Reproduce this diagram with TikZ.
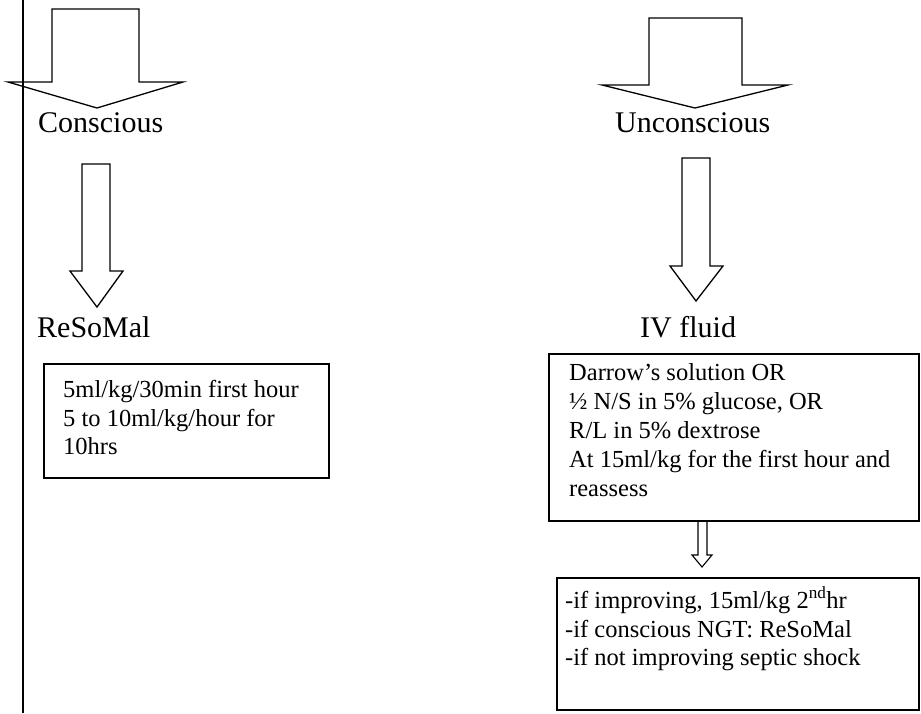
\documentclass[tikz,border=0pt]{standalone}
\usepackage{fontspec}
\setmainfont{Liberation Serif}
\begin{document}
\begin{tikzpicture}[x=1pt,y=-1pt,
  blockarrow/.style={draw=black, line width=1.3pt, line join=miter},
  frame/.style={draw=black, line width=1.8pt, inner sep=0pt, anchor=north west},
  head/.style={font=\fontsize{30}{36}\selectfont, anchor=base west, inner sep=0pt},
  body/.style={font=\fontsize{24.5}{29}\selectfont, anchor=base west, inner sep=0pt},
]
\useasboundingbox (0,0) rectangle (921,713);

% ---------- left column ----------
\node[head] (conscious) at (38,132) {Conscious};
\node[head] (resomal) at (37,337) {ReSoMal};

\node[frame, minimum width=285pt, minimum height=114pt] (leftbox) at (43,363) {};
\node[body] (l1) at (63,397) {5ml/kg/30min first hour};
\node[body] (l2) at (63,426) {5 to 10ml/kg/hour for};
\node[body] (l3) at (63,454) {10hrs};

% block arrow into "Conscious"
\draw[blockarrow] (52,9) -- (139,9) -- (139,82) -- (183,82) -- (97,108)
  -- (8,82) -- (52,82) -- cycle;
% block arrow from "Conscious" to "ReSoMal"
\draw[blockarrow] (82,164) -- (110,164) -- (110,271) -- (123,271) -- (97,307)
  -- (70,271) -- (82,271) -- cycle;

% ---------- right column ----------
\node[head] (unconscious) at (615,132) {Unconscious};
\node[head] (ivfluid) at (640,337) {IV fluid};

\node[frame, minimum width=370pt, minimum height=167pt] (ivbox) at (548,353) {};
\node[body] (r1) at (569,380) {Darrow’s solution OR};
\node[body] (r2) at (569,409) {½ N/S in 5\% glucose, OR};
\node[body] (r3) at (569,438) {R/L in 5\% dextrose};
\node[body] (r4) at (569,467) {At 15ml/kg for the first hour and};
\node[body] (r5) at (569,496) {reassess};

\node[frame, minimum width=362pt, minimum height=132pt] (nextbox) at (556,577) {};
\node[body] (n1) at (565,608) {-if improving, 15ml/kg 2\textsuperscript{nd}hr};
\node[body] (n2) at (565,637) {-if conscious NGT: ReSoMal};
\node[body] (n3) at (565,665) {-if not improving septic shock};

% block arrow into "Unconscious"
\draw[blockarrow] (649,18) -- (742,18) -- (742,85) -- (788,85) -- (695,108)
  -- (602,85) -- (649,85) -- cycle;
% block arrow from "Unconscious" to "IV fluid"
\draw[blockarrow] (682,158) -- (710,158) -- (710,266) -- (723,266) -- (696,301)
  -- (670,266) -- (682,266) -- cycle;
% small block arrow between the two boxes
\draw[blockarrow, line width=1.1pt] (ivbox.south -| 698,0) -- (698,555) -- (692,555) -- (702,567)
  -- (712,555) -- (707,555) -- (ivbox.south -| 707,0);

% vertical rule along the left side
\draw[line width=2.4pt] (23,0) -- (23,713);
\end{tikzpicture}
\end{document}
